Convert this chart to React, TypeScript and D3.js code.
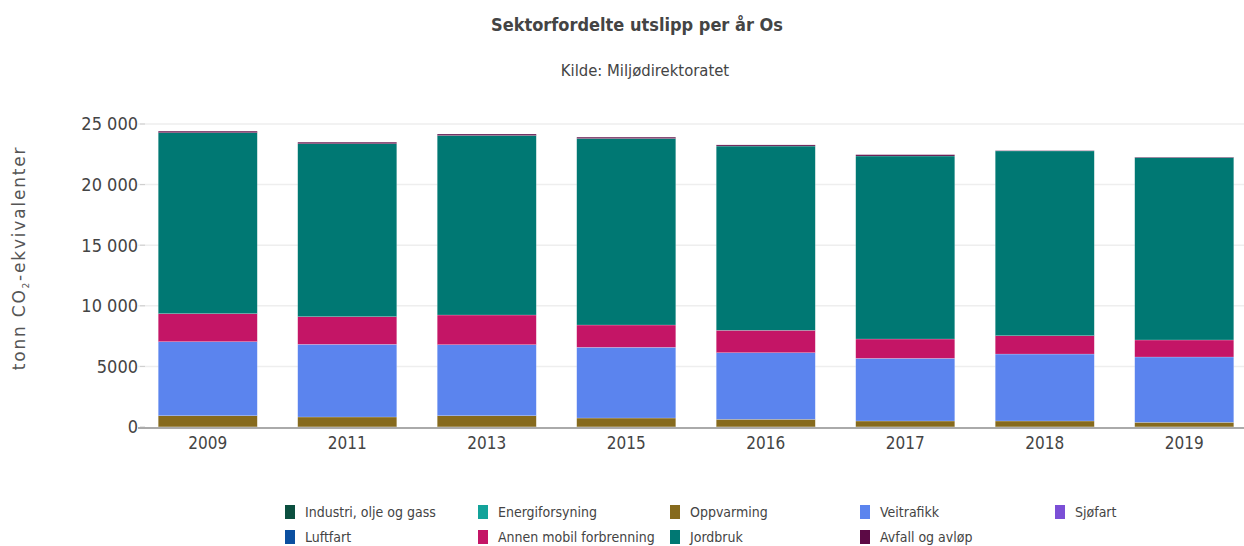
import React from "react";
import * as d3 from "d3";

const W = 1244;
const H = 546;
const M = { left: 138, right: 1254, top: 124, bottom: 427 };

const years = ["2009", "2011", "2013", "2015", "2016", "2017", "2018", "2019"];

const sectors = [
  "Industri, olje og gass",
  "Energiforsyning",
  "Oppvarming",
  "Veitrafikk",
  "Sjøfart",
  "Luftfart",
  "Annen mobil forbrenning",
  "Jordbruk",
  "Avfall og avløp",
];

const colors = ["#0b4f3f", "#13a39a", "#866a1d", "#5b84ee", "#7b4fd6", "#0b4fa0", "#c41566", "#007873", "#5c0a45"];

// values per sector, one per year
const industri = [10, 10, 10, 10, 10, 10, 10, 10];
const energi = [0, 0, 0, 0, 0, 0, 0, 0];
const oppvarming = [920, 815, 920, 730, 625, 485, 485, 375];
const veitrafikk = [6110, 5995, 5860, 5835, 5495, 5170, 5525, 5390];
const sjofart = [0, 0, 0, 0, 0, 0, 0, 0];
const luftfart = [0, 0, 0, 0, 0, 0, 0, 0];
const annenMobil = [2310, 2280, 2450, 1840, 1850, 1595, 1510, 1405];
const jordbruk = [14930, 14270, 14810, 15385, 15200, 15100, 15250, 15050];
const avfall = [130, 130, 120, 115, 95, 110, 30, 40];

const seriesValues = [industri, energi, oppvarming, veitrafikk, sjofart, luftfart, annenMobil, jordbruk, avfall];

const yTicks = [0, 5000, 10000, 15000, 20000, 25000];

const fmt = (v: number) => (v >= 10000 ? d3.format(",")(v).replace(",", " ") : String(v));

const FONT = "'DejaVu Sans Condensed', 'DejaVu Sans', sans-serif";

export default function App() {
  const x = d3.scaleBand<string>().domain(years).range([M.left, M.right]).paddingInner(0.29).paddingOuter(0.145);
  const y = d3.scaleLinear().domain([0, 25000]).range([M.bottom, M.top]);

  const table = years.map((yr, i) => {
    const row: Record<string, number | string> = { year: yr };
    sectors.forEach((s, j) => (row[s] = seriesValues[j][i]));
    return row;
  });
  const stack = d3.stack<Record<string, number | string>>().keys(sectors)(table as any);

  const legendCols = [285, 478, 670, 860, 1055];
  const legendRows = [512, 537];

  return (
    <svg width={W} height={H} style={{ position: "absolute", left: 0, top: 0, background: "#fff" }} fontFamily={FONT}>
      <text x={637} y={31} textAnchor="middle" fontSize={18} fontWeight="bold" fill="#444">
        Sektorfordelte utslipp per år Os
      </text>
      <text x={645} y={76} textAnchor="middle" fontSize={16.5} fill="#444">
        Kilde: Miljødirektoratet
      </text>

      {yTicks.map((t) => (
        <g key={t}>
          {t > 0 && <line x1={M.left} x2={W} y1={y(t)} y2={y(t)} stroke="#eee" strokeWidth={1.5} />}
          <line x1={M.left + 2} x2={M.left + 7} y1={y(t)} y2={y(t)} stroke="#ccc" />
          <text x={M.left} y={y(t)} dy="0.35em" textAnchor="end" fontSize={18} fill="#444">
            {fmt(t)}
          </text>
        </g>
      ))}

      <text
        transform={`translate(25, 258) rotate(-90)`}
        textAnchor="middle"
        fontSize={17}
        fill="#555"
        letterSpacing={1.8}
        fontFamily="'DejaVu Sans', sans-serif"
      >
        tonn CO<tspan fontSize={9} dy={4}>2</tspan>
        <tspan dy={-4}>-ekvivalenter</tspan>
      </text>

      {stack.map((layer, j) => (
        <g key={sectors[j]} fill={colors[j]}>
          {layer.map((d, i) => {
            const h = y(d[0]) - y(d[1]);
            if (h <= 0) return null;
            return (
              <rect
                key={i}
                x={x(years[i])}
                width={x.bandwidth()}
                y={y(d[1])}
                height={h}
                stroke="#fff"
                strokeOpacity={0.4}
                strokeWidth={0.5}
              />
            );
          })}
        </g>
      ))}

      <line x1={M.left} x2={W} y1={y(0) + 1} y2={y(0) + 1} stroke="#aaa" strokeWidth={2} />

      {years.map((yr) => (
        <text key={yr} x={x(yr)! + x.bandwidth() / 2} y={449} textAnchor="middle" fontSize={17} fill="#444">
          {yr}
        </text>
      ))}

      {sectors.map((s, j) => {
        const col = j % 5;
        const row = Math.floor(j / 5);
        const lx = legendCols[col];
        const ly = legendRows[row];
        return (
          <g key={s}>
            <rect x={lx} y={ly - 7} width={10} height={14} fill={colors[j]} />
            <text x={lx + 20} y={ly} dy="0.35em" fontSize={14} fill="#444">
              {s}
            </text>
          </g>
        );
      })}
    </svg>
  );
}
